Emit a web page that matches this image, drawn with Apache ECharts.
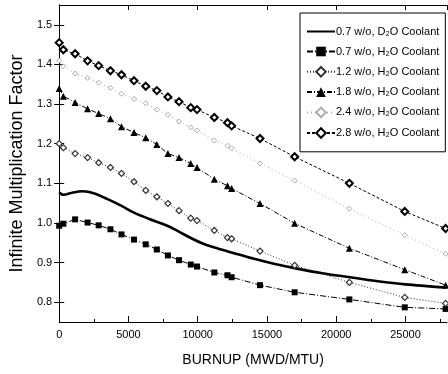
<!DOCTYPE html>
<html>
<head>
<meta charset="utf-8">
<script src="https://cdn.jsdelivr.net/npm/echarts@6/dist/echarts.min.js"></script>
<style>
  html, body { margin: 0; padding: 0; background: #fff; }
  #chart { width: 448px; height: 374px; }
</style>
</head>
<body>
<div id="chart"></div>
<script>
const legends = ['0.7 w/o, D₂O Coolant', '0.7 w/o, H₂O Coolant', '1.2 w/o, H₂O Coolant', '1.8 w/o, H₂O Coolant', '2.4 w/o, H₂O Coolant', '2.8 w/o, H₂O Coolant']

// burnup steps of the depletion runs (MWD/MTU)
const burnup = [0, 300, 1150, 2050, 2850, 3700, 4500, 5400, 6250, 7050, 7850, 8650, 9500, 9950, 11200, 12150, 12450, 14500, 17000, 20950, 24950, 27900]
const burnupD2O = [0, 300, 1000, 1700, 2500, 3500, 4500, 5400, 6500, 7800, 8700, 9500, 10500, 11500, 12500, 14000, 15500, 17000, 19000, 21000, 23000, 25000, 27900]

const kD2O07 = [1.077, 1.071, 1.077, 1.080, 1.075, 1.060, 1.043, 1.026, 1.010, 0.993, 0.977, 0.962, 0.946, 0.935, 0.925, 0.910, 0.897, 0.886, 0.873, 0.863, 0.853, 0.845, 0.837]
const kH2O07 = [0.993, 0.998, 1.009, 1.001, 0.994, 0.984, 0.971, 0.958, 0.946, 0.933, 0.918, 0.906, 0.895, 0.890, 0.875, 0.868, 0.863, 0.843, 0.825, 0.807, 0.787, 0.783]
const kH2O12 = [1.200, 1.190, 1.175, 1.165, 1.152, 1.140, 1.125, 1.104, 1.082, 1.066, 1.049, 1.031, 1.012, 1.006, 0.981, 0.963, 0.960, 0.929, 0.893, 0.850, 0.812, 0.797]
const kH2O18 = [1.339, 1.320, 1.304, 1.288, 1.276, 1.263, 1.243, 1.228, 1.215, 1.198, 1.175, 1.165, 1.150, 1.140, 1.110, 1.094, 1.087, 1.049, 0.999, 0.936, 0.882, 0.843]
const kH2O24 = [1.410, 1.395, 1.377, 1.366, 1.354, 1.341, 1.326, 1.313, 1.302, 1.286, 1.273, 1.256, 1.241, 1.233, 1.208, 1.195, 1.188, 1.150, 1.107, 1.036, 0.969, 0.922]
const kH2O28 = [1.455, 1.437, 1.427, 1.409, 1.397, 1.384, 1.374, 1.359, 1.345, 1.334, 1.318, 1.306, 1.291, 1.286, 1.266, 1.253, 1.245, 1.213, 1.167, 1.100, 1.029, 0.986]

const yTicks = [0.8, 0.9, 1.0, 1.1, 1.2, 1.3, 1.4, 1.5]
const xMinorTicks = [2500, 7500, 12500, 17500, 22500, 27500]

const font = "'Liberation Sans', Arial, sans-serif"
const pairs = (xs, ys) => xs.map((x, i) => [x, ys[i]])

const axisLine = { show: true, lineStyle: { color: '#000', width: 1 } }

const option = {
  animation: false,
  backgroundColor: '#fff',
  textStyle: { fontFamily: font, color: '#000' },
  grid: { left: 54, right: 1, top: 5, bottom: 52 },
  legend: {
    orient: 'vertical',
    left: 300,
    top: 13,
    padding: [13, 6, 13, 6],
    itemWidth: 28,
    itemHeight: 12,
    itemGap: 9,
    backgroundColor: '#fff',
    borderColor: '#000',
    borderWidth: 1,
    textStyle: { fontFamily: font, fontSize: 11, color: '#000', padding: [0, 0, 0, -4] },
    data: [
      { name: legends[0], itemStyle: { opacity: 0 } },
      legends[1], legends[2], legends[3], legends[4], legends[5]
    ]
  },
  xAxis: [
    {
      type: 'value', min: 0, max: 28000, interval: 5000,
      name: 'BURNUP (MWD/MTU)', nameLocation: 'middle', nameGap: 31,
      nameTextStyle: { fontFamily: font, fontSize: 14, color: '#000' },
      axisLine: axisLine,
      axisTick: { inside: true, length: 6, lineStyle: { color: '#000' } },
      axisLabel: { fontSize: 11, color: '#000', margin: 7, showMaxLabel: false, formatter: v => String(v) },
      splitLine: { show: false }
    },
    {
      type: 'value', min: 0, max: 28000, interval: 5000, position: 'top',
      axisLine: axisLine,
      axisTick: { inside: true, length: 5, lineStyle: { color: '#000' } },
      axisLabel: { show: false },
      splitLine: { show: false }
    },
    {
      type: 'value', min: 0, max: 28000, position: 'bottom',
      axisLine: { show: false },
      axisTick: { inside: true, length: 3, customValues: xMinorTicks, lineStyle: { color: '#000' } },
      axisLabel: { show: false },
      splitLine: { show: false }
    }
  ],
  yAxis: [
    {
      type: 'value', min: 0.75, max: 1.55,
      name: 'Infinite Multiplication Factor', nameLocation: 'middle', nameGap: 26,
      nameTextStyle: { fontFamily: font, fontSize: 18, color: '#000' },
      axisLine: axisLine,
      axisTick: { inside: true, length: 5, customValues: yTicks, lineStyle: { color: '#000' } },
      axisLabel: { fontSize: 11, color: '#000', margin: 7, customValues: yTicks, formatter: v => v.toFixed(1) },
      splitLine: { show: false }
    },
    {
      type: 'value', min: 0.75, max: 1.55, position: 'right',
      axisLine: axisLine,
      axisTick: { inside: true, length: 5, customValues: yTicks, lineStyle: { color: '#000' } },
      axisLabel: { show: false },
      splitLine: { show: false }
    }
  ],
  series: [
    {
      name: legends[0], type: 'line', data: pairs(burnupD2O, kD2O07),
      smooth: 0.3, showSymbol: false, symbol: 'none',
      lineStyle: { color: '#000', width: 2.6 },
      itemStyle: { color: '#000' }
    },
    {
      name: legends[1], type: 'line', data: pairs(burnup, kH2O07),
      symbol: 'rect', symbolSize: 6,
      lineStyle: { color: '#000', width: 1, type: [6, 2, 1, 2] },
      itemStyle: { color: '#000' }
    },
    {
      name: legends[2], type: 'line', data: pairs(burnup, kH2O12),
      symbol: 'diamond', symbolSize: 6,
      lineStyle: { color: '#333', width: 1, type: [1, 2] },
      itemStyle: { color: '#fff', borderColor: '#333', borderWidth: 1.2 }
    },
    {
      name: legends[3], type: 'line', data: pairs(burnup, kH2O18),
      symbol: 'triangle', symbolSize: 7,
      lineStyle: { color: '#000', width: 1, type: [5, 2, 1, 2] },
      itemStyle: { color: '#000' }
    },
    {
      name: legends[4], type: 'line', data: pairs(burnup, kH2O24),
      symbol: 'diamond', symbolSize: 5,
      lineStyle: { color: '#aaa', width: 1, type: [1, 3] },
      itemStyle: { color: '#fff', borderColor: '#aaa', borderWidth: 1 }
    },
    {
      name: legends[5], type: 'line', data: pairs(burnup, kH2O28),
      symbol: 'diamond', symbolSize: 7,
      lineStyle: { color: '#000', width: 1, type: [3, 2] },
      itemStyle: { color: '#fff', borderColor: '#000', borderWidth: 2 }
    }
  ]
}

const myChart = echarts.init(document.getElementById('chart'))
myChart.setOption(option)
</script>
</body>
</html>
